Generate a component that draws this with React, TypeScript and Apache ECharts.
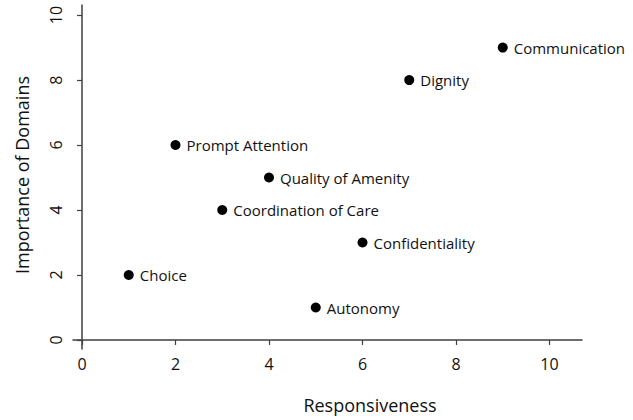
import React, { useEffect, useRef } from "react";
import * as echarts from "echarts";

const domains = [
  "Communication",
  "Dignity",
  "Prompt Attention",
  "Quality of Amenity",
  "Coordination of Care",
  "Confidentiality",
  "Choice",
  "Autonomy",
];
const responsiveness = [9, 7, 2, 4, 3, 6, 1, 5];
const importance = [9, 8, 6, 5, 4, 3, 2, 1];
const tickValues = [0, 2, 4, 6, 8, 10];
const xTitle = "Responsiveness";
const yTitle = "Importance of Domains";

const FONT = "Open Sans";
const AXIS_COLOR = "#3f3f3f";
const TEXT_COLOR = "#111111";

export default function App() {
  const ref = useRef<HTMLDivElement>(null);
  useEffect(() => {
    if (!ref.current) return;
    const chart = echarts.init(ref.current, undefined, { renderer: "svg" });
    const data = domains.map((d, i) => ({
      name: d,
      value: [responsiveness[i], importance[i]],
    }));
    chart.setOption({
      animation: false,
      backgroundColor: "#ffffff",
      textStyle: { fontFamily: FONT },
      grid: { left: 73, right: 51, top: 5, bottom: 71, containLabel: false },
      xAxis: {
        type: "value",
        min: -0.1925,
        max: 10.695,
        splitLine: { show: false },
        axisLine: { show: true, lineStyle: { color: AXIS_COLOR, width: 1.5 } },
        axisTick: {
          show: true,
          length: 5,
          customValues: tickValues,
          lineStyle: { color: AXIS_COLOR, width: 1.2 },
        },
        axisLabel: {
          customValues: tickValues,
          margin: 7,
          fontSize: 16,
          color: TEXT_COLOR,
          fontFamily: FONT,
        },
      },
      yAxis: {
        type: "value",
        min: -0.277,
        max: 10.31,
        splitLine: { show: false },
        axisLine: { show: true, lineStyle: { color: AXIS_COLOR, width: 1.5 } },
        axisTick: {
          show: true,
          length: 5,
          customValues: tickValues,
          lineStyle: { color: AXIS_COLOR, width: 1.2 },
        },
        axisLabel: {
          customValues: tickValues,
          rotate: 90,
          margin: 9,
          fontSize: 16,
          color: TEXT_COLOR,
          fontFamily: FONT,
        },
      },
      graphic: [
        {
          type: "text",
          x: 370,
          y: 405,
          style: {
            text: xTitle,
            fontSize: 18,
            fontFamily: FONT,
            fill: TEXT_COLOR,
            align: "center",
            verticalAlign: "middle",
          },
        },
        {
          type: "text",
          x: 22,
          y: 175,
          rotation: Math.PI / 2,
          style: {
            text: yTitle,
            fontSize: 18,
            fontFamily: FONT,
            fill: TEXT_COLOR,
            align: "center",
            verticalAlign: "middle",
          },
        },
      ],
      series: [
        {
          type: "scatter",
          symbol: "circle",
          symbolSize: 10,
          itemStyle: { color: "#000000", opacity: 1 },
          data,
          label: {
            show: true,
            position: "right",
            distance: 6,
            formatter: "{b}",
            fontSize: 15,
            fontFamily: FONT,
            color: TEXT_COLOR,
          },
        },
      ],
    });
    return () => chart.dispose();
  }, []);
  return (
    <div
      ref={ref}
      style={{ position: "fixed", left: 0, top: 0, width: 633, height: 420 }}
    />
  );
}
